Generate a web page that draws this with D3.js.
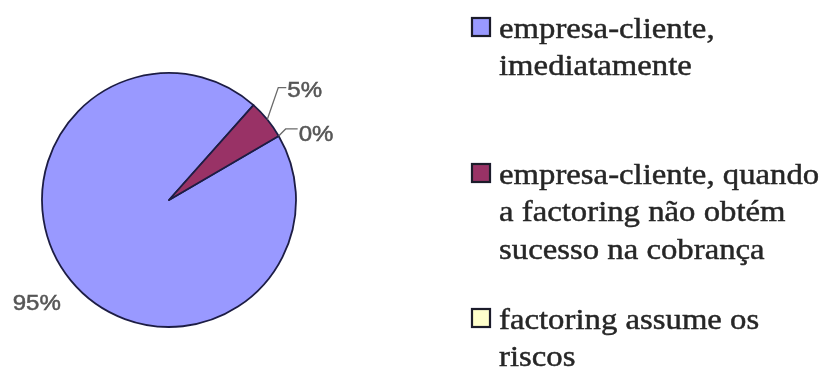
<!DOCTYPE html>
<html>
<head>
<meta charset="utf-8">
<script src="https://cdn.jsdelivr.net/npm/d3@7"></script>
<style>
  html, body { margin: 0; padding: 0; background: #fff; }
  svg { display: block; }
</style>
</head>
<body>
<svg id="chart" width="828" height="372"></svg>
<script>
// Who bears the risk of non-payment
const categories = [
  "empresa-cliente, imediatamente",
  "empresa-cliente, quando a factoring não obtém sucesso na cobrança",
  "factoring assume os riscos"
];
const legendLines = [
  ["empresa-cliente,", "imediatamente"],
  ["empresa-cliente, quando", "a factoring não obtém", "sucesso na cobrança"],
  ["factoring assume os", "riscos"]
];
const values = [95, 5, 0];
const valueLabels = ["95%", "5%", "0%"];
const colors = ["#9999ff", "#993366", "#ffffcc"];

const svg = d3.select("#chart");

// soft rendering like a scanned figure
const defs = svg.append("defs");
defs.append("filter").attr("id", "soft")
  .append("feGaussianBlur").attr("stdDeviation", 0.55);

const root = svg.append("g").attr("filter", "url(#soft)");

// ---- pie ----
const cx = 169, cy = 200, r = 127;
const start = 59.7 * Math.PI / 180;
const pie = d3.pie().sort(null).value(d => d)
  .startAngle(start).endAngle(start + 2 * Math.PI);
const arcs = pie(values);
const arc = d3.arc().innerRadius(0).outerRadius(r);

const pieG = root.append("g").attr("transform", `translate(${cx},${cy})`);
pieG.selectAll("path.slice")
  .data(arcs.filter(d => d.value > 0))
  .join("path")
  .attr("class", "slice")
  .attr("d", arc)
  .attr("fill", d => colors[d.index])
  .attr("stroke", "#1e1e44")
  .attr("stroke-width", 1.8)
  .attr("stroke-linejoin", "round");

// point on the rim at a slice's mid angle
function rimPoint(d) {
  const a = (d.startAngle + d.endAngle) / 2;
  return [Math.sin(a) * r, -Math.cos(a) * r];
}

const labelFont = "'Liberation Sans', Arial, sans-serif";
const labelColor = "#565656";

// label offsets from the rim point, with an optional leader bend
const labelPlacement = [
  { dx: -34, dy: 30, leader: null, anchor: "middle" },
  { dx: 20, dy: -23, leader: [[11, -32], [19, -32]], anchor: "start" },
  { dx: 20, dy: 5, leader: [[7, -7], [19, -7]], anchor: "start" }
];

arcs.forEach((d, i) => {
  const p = rimPoint(d);
  const place = labelPlacement[i];
  if (place.leader) {
    const pts = [p].concat(place.leader.map(q => [p[0] + q[0], p[1] + q[1]]));
    pieG.append("path")
      .attr("d", d3.line()(pts))
      .attr("fill", "none")
      .attr("stroke", "#6a6a6a")
      .attr("stroke-width", 1.3);
  }
  pieG.append("text")
    .attr("transform", `translate(${p[0] + place.dx},${p[1] + place.dy}) scale(1.12,1)`)
    .attr("text-anchor", place.anchor)
    .attr("font-family", labelFont)
    .attr("font-size", 21.5)
    .attr("fill", labelColor)
    .attr("stroke", labelColor)
    .attr("stroke-width", 0.5)
    .text(valueLabels[i]);
});

// ---- legend ----
const legendX = 471, textX = 499;
const firstBaselines = [38, 184, 329];
const lineGap = 37.3;
const legendFont = "'Liberation Serif', 'Times New Roman', serif";

const leg = root.append("g");
categories.forEach((c, i) => {
  const g = leg.append("g").attr("class", "legend-item");
  const b = firstBaselines[i];
  g.append("rect")
    .attr("x", legendX + 1)
    .attr("y", b - 20)
    .attr("width", 18)
    .attr("height", 18)
    .attr("fill", colors[i])
    .attr("stroke", "#1c1c2c")
    .attr("stroke-width", 2.2);
  legendLines[i].forEach((line, j) => {
    g.append("text")
      .attr("transform", `translate(${textX},${b + j * lineGap}) scale(1.13,1)`)
      .attr("font-family", legendFont)
      .attr("font-size", 29)
      .attr("fill", "#262626")
      .attr("stroke", "#262626")
      .attr("stroke-width", 0.45)
      .text(line);
  });
});
</script>
</body>
</html>
